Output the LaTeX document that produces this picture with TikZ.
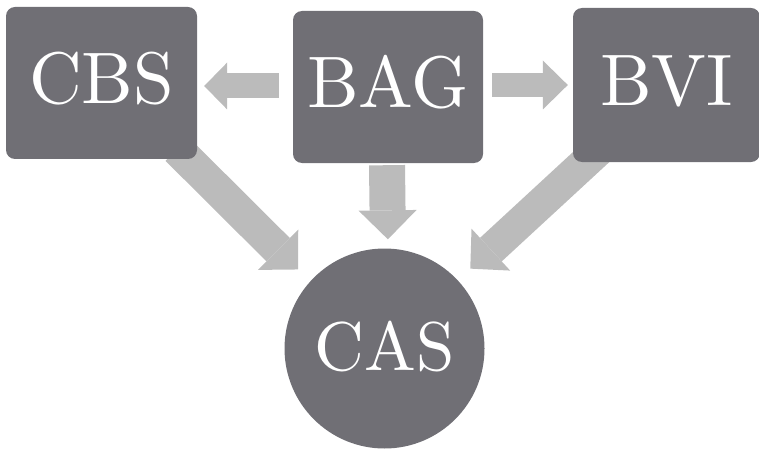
\documentclass[tikz,border=0pt]{standalone}
\usepackage{fontspec}
\newfontfamily\labelfont{lmroman10-regular.otf}
\usetikzlibrary{arrows.meta,calc,backgrounds}
\definecolor{tilegray}{RGB}{112,111,117}
\definecolor{flowgray}{RGB}{187,187,187}
\begin{document}
\begin{tikzpicture}[x=1pt,y=-1pt,
  tile/.style={fill=tilegray, rounded corners=9pt, inner sep=0pt,
    minimum width=190pt, minimum height=152pt, text=white,
    font=\labelfont\fontsize{73}{80}\selectfont,
    text height=49pt, text depth=7pt},
  hub/.style={circle, fill=tilegray, inner sep=0pt, minimum size=200pt,
    text=white, font=\labelfont\fontsize{69}{78}\selectfont,
    text height=47pt, text depth=4pt},
  flow/.style n args={3}{draw=flowgray, line width=#1,
    -{Triangle[width=#2,length=#3,line width=0pt]}}
]
\useasboundingbox (0,0) rectangle (759,449);

% source boxes and the target circle
\node[tile, minimum width=191pt] (CBS) at (101.5,83) {CBS};
\node[tile] (BAG) at (388,87) {BAG};
\node[tile, minimum width=187pt, minimum height=154pt] (BVI) at (666.5,85) {BVI};
\node[hub] (CAS) at (384.5,348.5) {CAS};

% block arrows, kept behind the shapes
\begin{pgfonlayer}{background}
  \draw[flow={25pt}{47pt}{23pt}]
    ([xshift=-14pt,yshift=1pt]BAG.west) -- ([xshift=7pt,yshift=-3pt]CBS.east);
  \draw[flow={24pt}{49pt}{25pt}]
    ([xshift=9pt,yshift=2pt]BAG.east) -- ([xshift=-5pt]BVI.west);
  \draw[flow={36pt}{58pt}{29pt}, shorten >=9pt]
    ([xshift=-1pt,yshift=-2pt]BAG.south) -- (BAG.south |- CAS.north);
  \draw[flow={33pt}{57pt}{28pt}, shorten >=17pt]
    ($(CBS.south east)+(-20,-10)$) -- (CAS.138);
  \draw[flow={32pt}{57pt}{28pt}, shorten >=17pt]
    ($(BVI.south west)+(28.6,-14.6)$) -- (CAS.43);
\end{pgfonlayer}
\end{tikzpicture}
\end{document}
